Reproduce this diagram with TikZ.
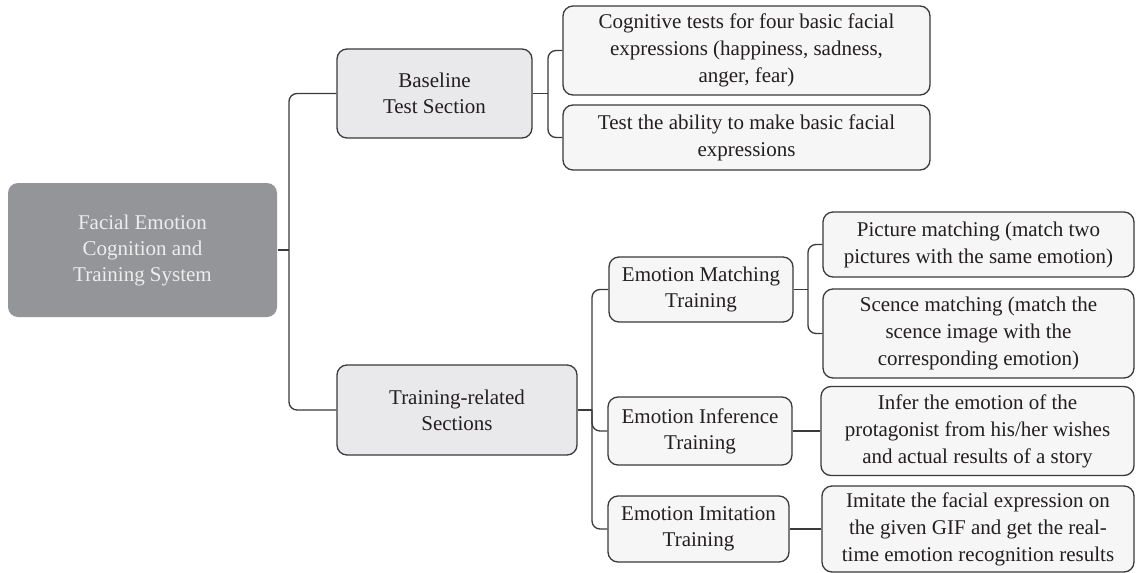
\documentclass[tikz,border=0pt]{standalone}
\usepackage{fontspec}
\setmainfont{Liberation Serif}
\definecolor{rootfill}{HTML}{939598}
\definecolor{roottext}{HTML}{EDEDED}
\definecolor{midfill}{HTML}{E9E9EB}
\definecolor{leaffill}{HTML}{F6F6F6}
\definecolor{edge}{HTML}{3A3A3A}
\definecolor{ink}{HTML}{231F20}
\tikzset{
  box/.style={draw=edge, line width=1.3pt, rounded corners=10pt, align=center,
    inner sep=0pt, text=ink, font=\fontsize{21}{26}\selectfont},
  rootbox/.style={box, fill=rootfill, draw=none, text=roottext},
  midbox/.style={box, fill=midfill},
  leafbox/.style={box, fill=leaffill},
  detailbox/.style={leafbox, font=\fontsize{21}{27}\selectfont},
  conn/.style={draw=edge, line width=1.3pt, rounded corners=8pt},
}
\begin{document}
\begin{tikzpicture}[x=1pt, y=-1pt]
\useasboundingbox (0,0) rectangle (1136,573);
\fill[white] (0,0) rectangle (1136,573);

% root and first level
\node[rootbox, minimum width=269pt, minimum height=134pt] (root) at (142.5,250)
  {Facial Emotion\\Cognition and\\Training System};
\node[midbox, minimum width=195pt, minimum height=89pt] (base) at (434.5,93.5)
  {Baseline\\Test Section};
\node[midbox, minimum width=240pt, minimum height=90pt] (train) at (457,410)
  {Training-related\\Sections};

% baseline tests
\node[detailbox, minimum width=367pt, minimum height=89pt] (cog) at (746.5,50.5)
  {Cognitive tests for four basic facial\\expressions (happiness, sadness,\\anger, fear)};
\node[detailbox, minimum width=367pt, minimum height=65pt] (make) at (746.5,137.5)
  {Test the ability to make basic facial\\expressions};

% training sections
\node[leafbox, minimum width=184pt, minimum height=65pt] (match) at (701,289.5)
  {Emotion Matching\\Training};
\node[leafbox, minimum width=184pt, minimum height=68pt] (infer) at (700,431)
  {Emotion Inference\\Training};
\node[leafbox, minimum width=181pt, minimum height=66pt] (imit) at (698.5,529)
  {Emotion Imitation\\Training};

% training details
\node[detailbox, minimum width=311pt, minimum height=65pt] (pic) at (978.5,244.5)
  {Picture matching (match two\\pictures with the same emotion)};
\node[detailbox, minimum width=311pt, minimum height=89pt] (scene) at (978.5,333.5)
  {Scence matching (match the\\scence image with the\\corresponding emotion)};
\node[detailbox, minimum width=313pt, minimum height=89pt] (story) at (977.5,431)
  {Infer the emotion of the\\protagonist from his/her wishes\\and actual results of a story};
\node[detailbox, minimum width=312pt, minimum height=86pt] (gif) at (978,529)
  {Imitate the facial expression on\\the given GIF and get the real-\\time emotion recognition results};

% branch points
\coordinate (j0) at (289,250);
\coordinate (j1) at (548,93.5);
\coordinate (j2) at (592,410);
\coordinate (j3) at (808,289.5);

% connectors
\draw[conn] (root.east) -- (j0);
\draw[conn] (base.west) -| (j0) |- (train.west);
\draw[conn] (base.east) -- (j1);
\draw[conn] (cog.west) -| (j1) |- (make.west);
\draw[conn] (train.east) -- (j2);
\draw[conn] (match.west) -| (j2) |- (imit.west);
\draw[conn] (j2) |- (infer.west);
\draw[conn] (match.east) -- (j3);
\draw[conn] (pic.west) -| (j3) |- (scene.west);
\draw[conn] (infer.east) -- (story.west);
\draw[conn] (imit.east) -- (gif.west);
\end{tikzpicture}
\end{document}
